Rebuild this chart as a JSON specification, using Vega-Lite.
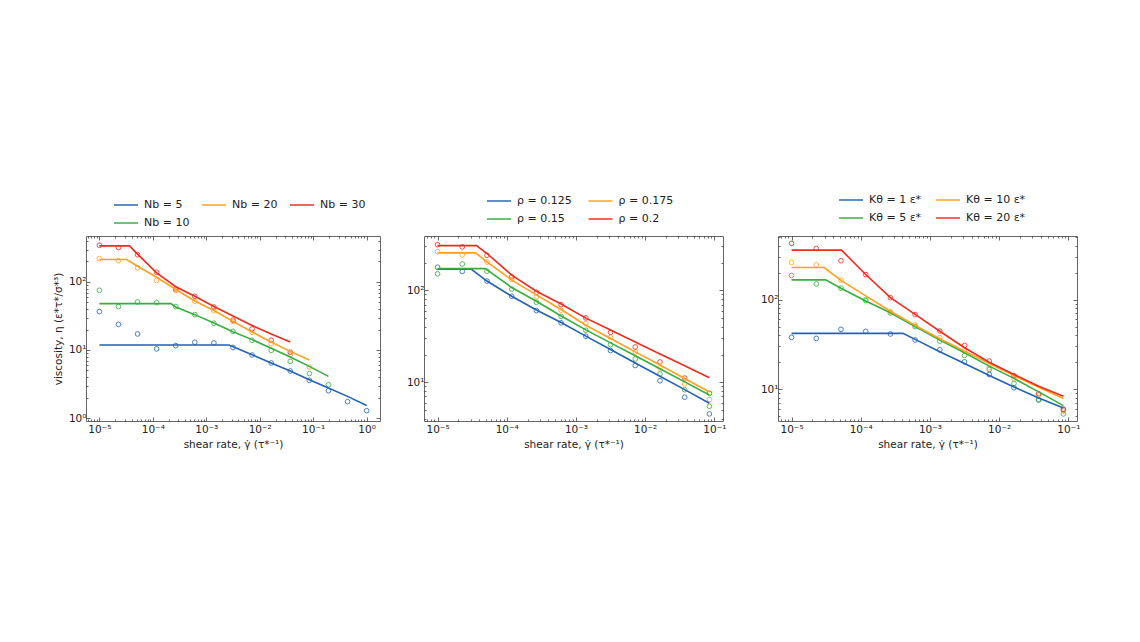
{
  "$schema": "https://vega.github.io/schema/vega-lite/v6.json",
  "padding": {"left": 52, "top": 186, "right": 5, "bottom": 5},
  "bounds": "flush",
  "spacing": 44,
  "resolve": {"scale": {"color": "independent"}, "legend": {"color": "independent"}},
  "datasets": {
    "p1pts": [
      {"s": "Nb = 5", "x": 1e-5, "y": 36.7}, {"s": "Nb = 5", "x": 2.276e-5, "y": 23.8}, {"s": "Nb = 5", "x": 5.179e-5, "y": 17.2}, {"s": "Nb = 5", "x": 1.179e-4, "y": 10.4}, {"s": "Nb = 5", "x": 2.683e-4, "y": 11.6}, {"s": "Nb = 5", "x": 6.105e-4, "y": 13.0}, {"s": "Nb = 5", "x": 1.389e-3, "y": 12.7}, {"s": "Nb = 5", "x": 3.162e-3, "y": 10.9}, {"s": "Nb = 5", "x": 7.197e-3, "y": 8.43}, {"s": "Nb = 5", "x": 1.638e-2, "y": 6.44}, {"s": "Nb = 5", "x": 3.728e-2, "y": 4.91}, {"s": "Nb = 5", "x": 8.483e-2, "y": 3.58}, {"s": "Nb = 5", "x": 0.1931, "y": 2.52}, {"s": "Nb = 5", "x": 0.4394, "y": 1.74}, {"s": "Nb = 5", "x": 1.0, "y": 1.28},
      {"s": "Nb = 10", "x": 1e-5, "y": 75.4}, {"s": "Nb = 10", "x": 2.276e-5, "y": 43.4}, {"s": "Nb = 10", "x": 5.179e-5, "y": 50.8}, {"s": "Nb = 10", "x": 1.179e-4, "y": 49.6}, {"s": "Nb = 10", "x": 2.683e-4, "y": 43.4}, {"s": "Nb = 10", "x": 6.105e-4, "y": 33.1}, {"s": "Nb = 10", "x": 1.389e-3, "y": 24.7}, {"s": "Nb = 10", "x": 3.162e-3, "y": 18.8}, {"s": "Nb = 10", "x": 7.197e-3, "y": 13.9}, {"s": "Nb = 10", "x": 1.638e-2, "y": 9.9}, {"s": "Nb = 10", "x": 3.728e-2, "y": 6.8}, {"s": "Nb = 10", "x": 8.483e-2, "y": 4.5}, {"s": "Nb = 10", "x": 0.1931, "y": 3.09},
      {"s": "Nb = 20", "x": 1e-5, "y": 220}, {"s": "Nb = 20", "x": 2.276e-5, "y": 206}, {"s": "Nb = 20", "x": 5.179e-5, "y": 162}, {"s": "Nb = 20", "x": 1.179e-4, "y": 105}, {"s": "Nb = 20", "x": 2.683e-4, "y": 75}, {"s": "Nb = 20", "x": 6.105e-4, "y": 52}, {"s": "Nb = 20", "x": 1.389e-3, "y": 37.8}, {"s": "Nb = 20", "x": 3.162e-3, "y": 26.3}, {"s": "Nb = 20", "x": 7.197e-3, "y": 18.2}, {"s": "Nb = 20", "x": 1.638e-2, "y": 12.4}, {"s": "Nb = 20", "x": 3.728e-2, "y": 8.5}, {"s": "Nb = 20", "x": 8.483e-2, "y": 5.6},
      {"s": "Nb = 30", "x": 1e-5, "y": 346}, {"s": "Nb = 30", "x": 2.276e-5, "y": 320}, {"s": "Nb = 30", "x": 5.179e-5, "y": 252}, {"s": "Nb = 30", "x": 1.179e-4, "y": 139}, {"s": "Nb = 30", "x": 2.683e-4, "y": 79}, {"s": "Nb = 30", "x": 6.105e-4, "y": 61.5}, {"s": "Nb = 30", "x": 1.389e-3, "y": 42.9}, {"s": "Nb = 30", "x": 3.162e-3, "y": 27.5}, {"s": "Nb = 30", "x": 7.197e-3, "y": 20.4}, {"s": "Nb = 30", "x": 1.638e-2, "y": 13.9}, {"s": "Nb = 30", "x": 3.728e-2, "y": 9.3}
    ],
    "p1lines": [
      {"s": "Nb = 5", "x": 1e-5, "y": 11.86}, {"s": "Nb = 5", "x": 2.667e-3, "y": 11.86}, {"s": "Nb = 5", "x": 7.197e-3, "y": 8.53}, {"s": "Nb = 5", "x": 1.638e-2, "y": 6.44}, {"s": "Nb = 5", "x": 3.728e-2, "y": 4.91}, {"s": "Nb = 5", "x": 8.483e-2, "y": 3.66}, {"s": "Nb = 5", "x": 0.1931, "y": 2.76}, {"s": "Nb = 5", "x": 0.4394, "y": 2.08}, {"s": "Nb = 5", "x": 1.0, "y": 1.53},
      {"s": "Nb = 10", "x": 1e-5, "y": 48.0}, {"s": "Nb = 10", "x": 2.178e-4, "y": 48.0}, {"s": "Nb = 10", "x": 2.683e-4, "y": 42.9}, {"s": "Nb = 10", "x": 6.105e-4, "y": 33.1}, {"s": "Nb = 10", "x": 1.389e-3, "y": 24.9}, {"s": "Nb = 10", "x": 3.162e-3, "y": 18.6}, {"s": "Nb = 10", "x": 7.197e-3, "y": 14.2}, {"s": "Nb = 10", "x": 1.638e-2, "y": 10.6}, {"s": "Nb = 10", "x": 3.728e-2, "y": 7.89}, {"s": "Nb = 10", "x": 8.483e-2, "y": 5.75}, {"s": "Nb = 10", "x": 0.1931, "y": 4.10},
      {"s": "Nb = 20", "x": 1e-5, "y": 214}, {"s": "Nb = 20", "x": 3.251e-5, "y": 214}, {"s": "Nb = 20", "x": 5.179e-5, "y": 170}, {"s": "Nb = 20", "x": 1.179e-4, "y": 117.5}, {"s": "Nb = 20", "x": 2.683e-4, "y": 77.6}, {"s": "Nb = 20", "x": 6.105e-4, "y": 52.5}, {"s": "Nb = 20", "x": 1.389e-3, "y": 38.0}, {"s": "Nb = 20", "x": 3.162e-3, "y": 26.3}, {"s": "Nb = 20", "x": 7.197e-3, "y": 18.4}, {"s": "Nb = 20", "x": 1.638e-2, "y": 13.1}, {"s": "Nb = 20", "x": 3.728e-2, "y": 9.55}, {"s": "Nb = 20", "x": 8.483e-2, "y": 7.13},
      {"s": "Nb = 30", "x": 1e-5, "y": 339}, {"s": "Nb = 30", "x": 3.656e-5, "y": 339}, {"s": "Nb = 30", "x": 5.179e-5, "y": 257}, {"s": "Nb = 30", "x": 1.179e-4, "y": 136}, {"s": "Nb = 30", "x": 2.683e-4, "y": 85.1}, {"s": "Nb = 30", "x": 6.105e-4, "y": 61.7}, {"s": "Nb = 30", "x": 1.389e-3, "y": 43.7}, {"s": "Nb = 30", "x": 3.162e-3, "y": 31.6}, {"s": "Nb = 30", "x": 7.197e-3, "y": 22.9}, {"s": "Nb = 30", "x": 1.638e-2, "y": 17.2}, {"s": "Nb = 30", "x": 3.728e-2, "y": 13.1}
    ],
    "p2pts": [
      {"s": "ρ = 0.125", "x": 1e-5, "y": 178}, {"s": "ρ = 0.125", "x": 2.276e-5, "y": 160}, {"s": "ρ = 0.125", "x": 5.179e-5, "y": 126}, {"s": "ρ = 0.125", "x": 1.179e-4, "y": 86}, {"s": "ρ = 0.125", "x": 2.683e-4, "y": 60.1}, {"s": "ρ = 0.125", "x": 6.105e-4, "y": 44.2}, {"s": "ρ = 0.125", "x": 1.389e-3, "y": 31.6}, {"s": "ρ = 0.125", "x": 3.162e-3, "y": 22.1}, {"s": "ρ = 0.125", "x": 7.197e-3, "y": 15.2}, {"s": "ρ = 0.125", "x": 1.638e-2, "y": 10.4}, {"s": "ρ = 0.125", "x": 3.728e-2, "y": 6.87}, {"s": "ρ = 0.125", "x": 8.483e-2, "y": 4.53},
      {"s": "ρ = 0.15", "x": 1e-5, "y": 151}, {"s": "ρ = 0.15", "x": 2.276e-5, "y": 193}, {"s": "ρ = 0.15", "x": 5.179e-5, "y": 161}, {"s": "ρ = 0.15", "x": 1.179e-4, "y": 103}, {"s": "ρ = 0.15", "x": 2.683e-4, "y": 74}, {"s": "ρ = 0.15", "x": 6.105e-4, "y": 52}, {"s": "ρ = 0.15", "x": 1.389e-3, "y": 36.7}, {"s": "ρ = 0.15", "x": 3.162e-3, "y": 25.6}, {"s": "ρ = 0.15", "x": 7.197e-3, "y": 17.9}, {"s": "ρ = 0.15", "x": 1.638e-2, "y": 12.3}, {"s": "ρ = 0.15", "x": 3.728e-2, "y": 8.3}, {"s": "ρ = 0.15", "x": 8.483e-2, "y": 5.48},
      {"s": "ρ = 0.175", "x": 1e-5, "y": 263}, {"s": "ρ = 0.175", "x": 2.276e-5, "y": 242}, {"s": "ρ = 0.175", "x": 5.179e-5, "y": 203}, {"s": "ρ = 0.175", "x": 1.179e-4, "y": 131}, {"s": "ρ = 0.175", "x": 2.683e-4, "y": 84.6}, {"s": "ρ = 0.175", "x": 6.105e-4, "y": 60.7}, {"s": "ρ = 0.175", "x": 1.389e-3, "y": 43.5}, {"s": "ρ = 0.175", "x": 3.162e-3, "y": 30.8}, {"s": "ρ = 0.175", "x": 7.197e-3, "y": 21.4}, {"s": "ρ = 0.175", "x": 1.638e-2, "y": 14.3}, {"s": "ρ = 0.175", "x": 3.728e-2, "y": 9.6}, {"s": "ρ = 0.175", "x": 8.483e-2, "y": 6.49},
      {"s": "ρ = 0.2", "x": 1e-5, "y": 313}, {"s": "ρ = 0.2", "x": 2.276e-5, "y": 296}, {"s": "ρ = 0.2", "x": 5.179e-5, "y": 240}, {"s": "ρ = 0.2", "x": 1.179e-4, "y": 140}, {"s": "ρ = 0.2", "x": 2.683e-4, "y": 95}, {"s": "ρ = 0.2", "x": 6.105e-4, "y": 69.8}, {"s": "ρ = 0.2", "x": 1.389e-3, "y": 50}, {"s": "ρ = 0.2", "x": 3.162e-3, "y": 34.9}, {"s": "ρ = 0.2", "x": 7.197e-3, "y": 24.2}, {"s": "ρ = 0.2", "x": 1.638e-2, "y": 16.6}, {"s": "ρ = 0.2", "x": 3.728e-2, "y": 11.1}, {"s": "ρ = 0.2", "x": 8.483e-2, "y": 7.6}
    ],
    "p2lines": [
      {"s": "ρ = 0.125", "x": 1e-5, "y": 169}, {"s": "ρ = 0.125", "x": 3.09e-5, "y": 169}, {"s": "ρ = 0.125", "x": 5.179e-5, "y": 126}, {"s": "ρ = 0.125", "x": 1.179e-4, "y": 86.1}, {"s": "ρ = 0.125", "x": 2.683e-4, "y": 61}, {"s": "ρ = 0.125", "x": 6.105e-4, "y": 44.7}, {"s": "ρ = 0.125", "x": 1.389e-3, "y": 31.7}, {"s": "ρ = 0.125", "x": 3.162e-3, "y": 22.7}, {"s": "ρ = 0.125", "x": 7.197e-3, "y": 16.2}, {"s": "ρ = 0.125", "x": 1.638e-2, "y": 11.6}, {"s": "ρ = 0.125", "x": 3.728e-2, "y": 8.32}, {"s": "ρ = 0.125", "x": 8.483e-2, "y": 5.92},
      {"s": "ρ = 0.15", "x": 1e-5, "y": 172}, {"s": "ρ = 0.15", "x": 4.9e-5, "y": 172}, {"s": "ρ = 0.15", "x": 1.179e-4, "y": 107}, {"s": "ρ = 0.15", "x": 2.683e-4, "y": 75.9}, {"s": "ρ = 0.15", "x": 6.105e-4, "y": 52.5}, {"s": "ρ = 0.15", "x": 1.389e-3, "y": 37.1}, {"s": "ρ = 0.15", "x": 3.162e-3, "y": 26.8}, {"s": "ρ = 0.15", "x": 7.197e-3, "y": 19.4}, {"s": "ρ = 0.15", "x": 1.638e-2, "y": 14.0}, {"s": "ρ = 0.15", "x": 3.728e-2, "y": 10.1}, {"s": "ρ = 0.15", "x": 8.483e-2, "y": 7.28},
      {"s": "ρ = 0.175", "x": 1e-5, "y": 255}, {"s": "ρ = 0.175", "x": 3.53e-5, "y": 255}, {"s": "ρ = 0.175", "x": 5.179e-5, "y": 204}, {"s": "ρ = 0.175", "x": 1.179e-4, "y": 129}, {"s": "ρ = 0.175", "x": 2.683e-4, "y": 89.1}, {"s": "ρ = 0.175", "x": 6.105e-4, "y": 61.7}, {"s": "ρ = 0.175", "x": 1.389e-3, "y": 41.7}, {"s": "ρ = 0.175", "x": 3.162e-3, "y": 29.9}, {"s": "ρ = 0.175", "x": 7.197e-3, "y": 21.4}, {"s": "ρ = 0.175", "x": 1.638e-2, "y": 15.4}, {"s": "ρ = 0.175", "x": 3.728e-2, "y": 11.0}, {"s": "ρ = 0.175", "x": 8.483e-2, "y": 7.82},
      {"s": "ρ = 0.2", "x": 1e-5, "y": 306}, {"s": "ρ = 0.2", "x": 3.66e-5, "y": 306}, {"s": "ρ = 0.2", "x": 5.179e-5, "y": 251}, {"s": "ρ = 0.2", "x": 1.179e-4, "y": 146}, {"s": "ρ = 0.2", "x": 2.683e-4, "y": 97.7}, {"s": "ρ = 0.2", "x": 6.105e-4, "y": 70.8}, {"s": "ρ = 0.2", "x": 1.389e-3, "y": 49.8}, {"s": "ρ = 0.2", "x": 3.162e-3, "y": 36.9}, {"s": "ρ = 0.2", "x": 7.197e-3, "y": 27.4}, {"s": "ρ = 0.2", "x": 1.638e-2, "y": 20.3}, {"s": "ρ = 0.2", "x": 3.728e-2, "y": 15.1}, {"s": "ρ = 0.2", "x": 8.483e-2, "y": 11.2}
    ],
    "p3pts": [
      {"s": "Kθ = 1 ε*", "x": 1e-5, "y": 37.9}, {"s": "Kθ = 1 ε*", "x": 2.276e-5, "y": 36.9}, {"s": "Kθ = 1 ε*", "x": 5.179e-5, "y": 46.5}, {"s": "Kθ = 1 ε*", "x": 1.179e-4, "y": 44.2}, {"s": "Kθ = 1 ε*", "x": 2.683e-4, "y": 41.3}, {"s": "Kθ = 1 ε*", "x": 6.105e-4, "y": 35.4}, {"s": "Kθ = 1 ε*", "x": 1.389e-3, "y": 27.5}, {"s": "Kθ = 1 ε*", "x": 3.162e-3, "y": 20.2}, {"s": "Kθ = 1 ε*", "x": 7.197e-3, "y": 14.6}, {"s": "Kθ = 1 ε*", "x": 1.638e-2, "y": 10.4}, {"s": "Kθ = 1 ε*", "x": 3.728e-2, "y": 7.6}, {"s": "Kθ = 1 ε*", "x": 8.483e-2, "y": 5.9},
      {"s": "Kθ = 5 ε*", "x": 1e-5, "y": 186}, {"s": "Kθ = 5 ε*", "x": 2.276e-5, "y": 150}, {"s": "Kθ = 5 ε*", "x": 5.179e-5, "y": 134}, {"s": "Kθ = 5 ε*", "x": 1.179e-4, "y": 97.5}, {"s": "Kθ = 5 ε*", "x": 2.683e-4, "y": 71}, {"s": "Kθ = 5 ε*", "x": 6.105e-4, "y": 50}, {"s": "Kθ = 5 ε*", "x": 1.389e-3, "y": 34.4}, {"s": "Kθ = 5 ε*", "x": 3.162e-3, "y": 23.8}, {"s": "Kθ = 5 ε*", "x": 7.197e-3, "y": 16.6}, {"s": "Kθ = 5 ε*", "x": 1.638e-2, "y": 11.6}, {"s": "Kθ = 5 ε*", "x": 3.728e-2, "y": 7.6}, {"s": "Kθ = 5 ε*", "x": 8.483e-2, "y": 5.3},
      {"s": "Kθ = 10 ε*", "x": 1e-5, "y": 259}, {"s": "Kθ = 10 ε*", "x": 2.276e-5, "y": 244}, {"s": "Kθ = 10 ε*", "x": 5.179e-5, "y": 165}, {"s": "Kθ = 10 ε*", "x": 1.179e-4, "y": 100}, {"s": "Kθ = 10 ε*", "x": 2.683e-4, "y": 73}, {"s": "Kθ = 10 ε*", "x": 6.105e-4, "y": 52}, {"s": "Kθ = 10 ε*", "x": 1.389e-3, "y": 37.6}, {"s": "Kθ = 10 ε*", "x": 3.162e-3, "y": 26.6}, {"s": "Kθ = 10 ε*", "x": 7.197e-3, "y": 17.3}, {"s": "Kθ = 10 ε*", "x": 1.638e-2, "y": 13.1}, {"s": "Kθ = 10 ε*", "x": 3.728e-2, "y": 8.6}, {"s": "Kθ = 10 ε*", "x": 8.483e-2, "y": 5.7},
      {"s": "Kθ = 20 ε*", "x": 1e-5, "y": 424}, {"s": "Kθ = 20 ε*", "x": 2.276e-5, "y": 372}, {"s": "Kθ = 20 ε*", "x": 5.179e-5, "y": 271}, {"s": "Kθ = 20 ε*", "x": 1.179e-4, "y": 190}, {"s": "Kθ = 20 ε*", "x": 2.683e-4, "y": 105}, {"s": "Kθ = 20 ε*", "x": 6.105e-4, "y": 68}, {"s": "Kθ = 20 ε*", "x": 1.389e-3, "y": 44.6}, {"s": "Kθ = 20 ε*", "x": 3.162e-3, "y": 30.8}, {"s": "Kθ = 20 ε*", "x": 7.197e-3, "y": 20.6}, {"s": "Kθ = 20 ε*", "x": 1.638e-2, "y": 14.2}, {"s": "Kθ = 20 ε*", "x": 3.728e-2, "y": 8.9}, {"s": "Kθ = 20 ε*", "x": 8.483e-2, "y": 6.0}
    ],
    "p3lines": [
      {"s": "Kθ = 1 ε*", "x": 1e-5, "y": 42}, {"s": "Kθ = 1 ε*", "x": 4.07e-4, "y": 42}, {"s": "Kθ = 1 ε*", "x": 6.105e-4, "y": 36}, {"s": "Kθ = 1 ε*", "x": 1.389e-3, "y": 26.2}, {"s": "Kθ = 1 ε*", "x": 3.162e-3, "y": 19.4}, {"s": "Kθ = 1 ε*", "x": 7.197e-3, "y": 14.2}, {"s": "Kθ = 1 ε*", "x": 1.638e-2, "y": 10.6}, {"s": "Kθ = 1 ε*", "x": 3.728e-2, "y": 8.0}, {"s": "Kθ = 1 ε*", "x": 8.483e-2, "y": 6.18},
      {"s": "Kθ = 5 ε*", "x": 1e-5, "y": 166}, {"s": "Kθ = 5 ε*", "x": 3.1e-5, "y": 166}, {"s": "Kθ = 5 ε*", "x": 5.179e-5, "y": 134}, {"s": "Kθ = 5 ε*", "x": 1.179e-4, "y": 96.6}, {"s": "Kθ = 5 ε*", "x": 2.683e-4, "y": 71.4}, {"s": "Kθ = 5 ε*", "x": 6.105e-4, "y": 49.9}, {"s": "Kθ = 5 ε*", "x": 1.389e-3, "y": 35.4}, {"s": "Kθ = 5 ε*", "x": 3.162e-3, "y": 25.5}, {"s": "Kθ = 5 ε*", "x": 7.197e-3, "y": 18.1}, {"s": "Kθ = 5 ε*", "x": 1.638e-2, "y": 13.2}, {"s": "Kθ = 5 ε*", "x": 3.728e-2, "y": 9.33}, {"s": "Kθ = 5 ε*", "x": 8.483e-2, "y": 6.56},
      {"s": "Kθ = 10 ε*", "x": 1e-5, "y": 228}, {"s": "Kθ = 10 ε*", "x": 2.96e-5, "y": 228}, {"s": "Kθ = 10 ε*", "x": 5.179e-5, "y": 164}, {"s": "Kθ = 10 ε*", "x": 1.179e-4, "y": 110}, {"s": "Kθ = 10 ε*", "x": 2.683e-4, "y": 74}, {"s": "Kθ = 10 ε*", "x": 6.105e-4, "y": 51.6}, {"s": "Kθ = 10 ε*", "x": 1.389e-3, "y": 36.6}, {"s": "Kθ = 10 ε*", "x": 3.162e-3, "y": 26.6}, {"s": "Kθ = 10 ε*", "x": 7.197e-3, "y": 19.4}, {"s": "Kθ = 10 ε*", "x": 1.638e-2, "y": 14.2}, {"s": "Kθ = 10 ε*", "x": 3.728e-2, "y": 10.5}, {"s": "Kθ = 10 ε*", "x": 8.483e-2, "y": 7.87},
      {"s": "Kθ = 20 ε*", "x": 1e-5, "y": 356}, {"s": "Kθ = 20 ε*", "x": 5.27e-5, "y": 356}, {"s": "Kθ = 20 ε*", "x": 1.179e-4, "y": 190.5}, {"s": "Kθ = 20 ε*", "x": 2.683e-4, "y": 105}, {"s": "Kθ = 20 ε*", "x": 6.105e-4, "y": 68.5}, {"s": "Kθ = 20 ε*", "x": 1.389e-3, "y": 44.3}, {"s": "Kθ = 20 ε*", "x": 3.162e-3, "y": 29.0}, {"s": "Kθ = 20 ε*", "x": 7.197e-3, "y": 20.0}, {"s": "Kθ = 20 ε*", "x": 1.638e-2, "y": 14.6}, {"s": "Kθ = 20 ε*", "x": 3.728e-2, "y": 10.8}, {"s": "Kθ = 20 ε*", "x": 8.483e-2, "y": 8.36}
    ]
  },
  "hconcat": [
    {
      "width": 294, "height": 185,
      "resolve": {"axis": {"x": "independent", "y": "independent"}},
      "layer": [
        {
          "data": {"name": "p1pts"},
          "mark": {"type": "point", "shape": "circle", "filled": false, "size": 22, "strokeWidth": 0.9, "opacity": 0.9},
          "encoding": {
            "x": {"field": "x", "type": "quantitative", "scale": {"type": "log", "domain": [5.623e-6, 1.778], "nice": false},
              "axis": {"orient": "bottom", "title": "shear rate,  γ̇ (τ*⁻¹)", "values": [6e-6,7e-6,8e-6,9e-6,1e-5,2e-5,3e-5,4e-5,5e-5,6e-5,7e-5,8e-5,9e-5,1e-4,2e-4,3e-4,4e-4,5e-4,6e-4,7e-4,8e-4,9e-4,1e-3,2e-3,3e-3,4e-3,5e-3,6e-3,7e-3,8e-3,9e-3,0.01,0.02,0.03,0.04,0.05,0.06,0.07,0.08,0.09,0.1,0.2,0.3,0.4,0.5,0.6,0.7,0.8,0.9,1],
                "labelExpr": "abs(log(datum.value)/LN10 - round(log(datum.value)/LN10)) < 0.01 ? '10' + ['⁻⁵','⁻⁴','⁻³','⁻²','⁻¹','⁰','¹','²'][round(log(datum.value)/LN10) + 5] : ''",
                "tickSize": {"condition": {"test": "abs(log(datum.value)/LN10 - round(log(datum.value)/LN10)) < 0.01", "value": -4}, "value": -2},
                "labelPadding": 7, "titlePadding": 3}},
            "y": {"field": "y", "type": "quantitative", "scale": {"type": "log", "domain": [0.904, 474], "nice": false},
              "axis": {"orient": "left", "title": "viscosity, η (ε*τ*/σ*³)", "values": [1,2,3,4,5,6,7,8,9,10,20,30,40,50,60,70,80,90,100,200,300,400],
                "labelExpr": "abs(log(datum.value)/LN10 - round(log(datum.value)/LN10)) < 0.01 ? '10' + ['⁻⁵','⁻⁴','⁻³','⁻²','⁻¹','⁰','¹','²'][round(log(datum.value)/LN10) + 5] : ''",
                "tickSize": {"condition": {"test": "abs(log(datum.value)/LN10 - round(log(datum.value)/LN10)) < 0.01", "value": -4}, "value": -2},
                "labelPadding": 4, "titlePadding": 5}},
            "color": {"field": "s", "type": "nominal", "scale": {"domain": ["Nb = 5", "Nb = 20", "Nb = 30", "Nb = 10"], "range": ["#2462b4", "#ffa01f", "#ef2a1e", "#37ad3e"]}}
          }
        },
        {
          "data": {"name": "p1lines"},
          "mark": {"type": "line", "strokeWidth": 1.6},
          "encoding": {
            "x": {"field": "x", "type": "quantitative",
              "axis": {"orient": "top", "title": null, "labels": false, "values": [6e-6,7e-6,8e-6,9e-6,1e-5,2e-5,3e-5,4e-5,5e-5,6e-5,7e-5,8e-5,9e-5,1e-4,2e-4,3e-4,4e-4,5e-4,6e-4,7e-4,8e-4,9e-4,1e-3,2e-3,3e-3,4e-3,5e-3,6e-3,7e-3,8e-3,9e-3,0.01,0.02,0.03,0.04,0.05,0.06,0.07,0.08,0.09,0.1,0.2,0.3,0.4,0.5,0.6,0.7,0.8,0.9,1],
                "tickSize": {"condition": {"test": "abs(log(datum.value)/LN10 - round(log(datum.value)/LN10)) < 0.01", "value": -4}, "value": -2}}},
            "y": {"field": "y", "type": "quantitative",
              "axis": {"orient": "right", "title": null, "labels": false, "values": [1,2,3,4,5,6,7,8,9,10,20,30,40,50,60,70,80,90,100,200,300,400],
                "tickSize": {"condition": {"test": "abs(log(datum.value)/LN10 - round(log(datum.value)/LN10)) < 0.01", "value": -4}, "value": -2}}},
            "color": {"field": "s", "type": "nominal", "scale": {"domain": ["Nb = 5", "Nb = 20", "Nb = 30", "Nb = 10"], "range": ["#2462b4", "#ffa01f", "#ef2a1e", "#37ad3e"]},
              "legend": {"orient": "none", "legendX": 27, "legendY": -44, "direction": "horizontal", "columns": 3, "title": null, "symbolType": "stroke", "symbolSize": 576, "symbolStrokeWidth": 1.6, "symbolOpacity": 1, "labelFontSize": 11, "labelOffset": 5, "columnPadding": 8, "rowPadding": -12, "gridAlign": "all", "padding": 0}}
          }
        }
      ]
    },
    {
      "spacing": 55,
      "bounds": "flush",
      "resolve": {"scale": {"color": "independent"}, "legend": {"color": "independent"}},
      "hconcat": [
        {
          "width": 299, "height": 185,
          "resolve": {"axis": {"x": "independent", "y": "independent"}},
          "layer": [
            {
              "data": {"name": "p2pts"},
              "mark": {"type": "point", "shape": "circle", "filled": false, "size": 22, "strokeWidth": 0.9, "opacity": 0.9},
              "encoding": {
                "x": {"field": "x", "type": "quantitative", "scale": {"type": "log", "domain": [6.368e-6, 0.1334], "nice": false},
                  "axis": {"orient": "bottom", "title": "shear rate,  γ̇ (τ*⁻¹)", "values": [7e-6,8e-6,9e-6,1e-5,2e-5,3e-5,4e-5,5e-5,6e-5,7e-5,8e-5,9e-5,1e-4,2e-4,3e-4,4e-4,5e-4,6e-4,7e-4,8e-4,9e-4,1e-3,2e-3,3e-3,4e-3,5e-3,6e-3,7e-3,8e-3,9e-3,0.01,0.02,0.03,0.04,0.05,0.06,0.07,0.08,0.09,0.1],
                    "labelExpr": "abs(log(datum.value)/LN10 - round(log(datum.value)/LN10)) < 0.01 ? '10' + ['⁻⁵','⁻⁴','⁻³','⁻²','⁻¹','⁰','¹','²'][round(log(datum.value)/LN10) + 5] : ''",
                    "tickSize": {"condition": {"test": "abs(log(datum.value)/LN10 - round(log(datum.value)/LN10)) < 0.01", "value": -4}, "value": -2},
                    "labelPadding": 7, "titlePadding": 3}},
                "y": {"field": "y", "type": "quantitative", "scale": {"type": "log", "domain": [3.79, 389], "nice": false},
                  "axis": {"orient": "left", "title": null, "values": [4,5,6,7,8,9,10,20,30,40,50,60,70,80,90,100,200,300],
                    "labelExpr": "abs(log(datum.value)/LN10 - round(log(datum.value)/LN10)) < 0.01 ? '10' + ['⁻⁵','⁻⁴','⁻³','⁻²','⁻¹','⁰','¹','²'][round(log(datum.value)/LN10) + 5] : ''",
                    "tickSize": {"condition": {"test": "abs(log(datum.value)/LN10 - round(log(datum.value)/LN10)) < 0.01", "value": -4}, "value": -2},
                    "labelPadding": 4}},
                "color": {"field": "s", "type": "nominal", "scale": {"domain": ["ρ = 0.125", "ρ = 0.175", "ρ = 0.15", "ρ = 0.2"], "range": ["#2462b4", "#ffa01f", "#37ad3e", "#ef2a1e"]}}
              }
            },
            {
              "data": {"name": "p2lines"},
              "mark": {"type": "line", "strokeWidth": 1.6},
              "encoding": {
                "x": {"field": "x", "type": "quantitative",
                  "axis": {"orient": "top", "title": null, "labels": false, "values": [7e-6,8e-6,9e-6,1e-5,2e-5,3e-5,4e-5,5e-5,6e-5,7e-5,8e-5,9e-5,1e-4,2e-4,3e-4,4e-4,5e-4,6e-4,7e-4,8e-4,9e-4,1e-3,2e-3,3e-3,4e-3,5e-3,6e-3,7e-3,8e-3,9e-3,0.01,0.02,0.03,0.04,0.05,0.06,0.07,0.08,0.09,0.1],
                    "tickSize": {"condition": {"test": "abs(log(datum.value)/LN10 - round(log(datum.value)/LN10)) < 0.01", "value": -4}, "value": -2}}},
                "y": {"field": "y", "type": "quantitative",
                  "axis": {"orient": "right", "title": null, "labels": false, "values": [4,5,6,7,8,9,10,20,30,40,50,60,70,80,90,100,200,300],
                    "tickSize": {"condition": {"test": "abs(log(datum.value)/LN10 - round(log(datum.value)/LN10)) < 0.01", "value": -4}, "value": -2}}},
                "color": {"field": "s", "type": "nominal", "scale": {"domain": ["ρ = 0.125", "ρ = 0.175", "ρ = 0.15", "ρ = 0.2"], "range": ["#2462b4", "#ffa01f", "#37ad3e", "#ef2a1e"]},
                  "legend": {"orient": "none", "legendX": 62, "legendY": -48, "direction": "horizontal", "columns": 2, "title": null, "symbolType": "stroke", "symbolSize": 576, "symbolStrokeWidth": 1.6, "symbolOpacity": 1, "labelFontSize": 11, "labelOffset": 5, "columnPadding": 12.5, "rowPadding": -8, "gridAlign": "all", "padding": 0}}
              }
            }
          ]
        },
        {
          "width": 299, "height": 185,
          "resolve": {"axis": {"x": "independent", "y": "independent"}},
          "layer": [
            {
              "data": {"name": "p3pts"},
              "mark": {"type": "point", "shape": "circle", "filled": false, "size": 22, "strokeWidth": 0.9, "opacity": 0.9},
              "encoding": {
                "x": {"field": "x", "type": "quantitative", "scale": {"type": "log", "domain": [6.368e-6, 0.1334], "nice": false},
                  "axis": {"orient": "bottom", "title": "shear rate,  γ̇ (τ*⁻¹)", "values": [7e-6,8e-6,9e-6,1e-5,2e-5,3e-5,4e-5,5e-5,6e-5,7e-5,8e-5,9e-5,1e-4,2e-4,3e-4,4e-4,5e-4,6e-4,7e-4,8e-4,9e-4,1e-3,2e-3,3e-3,4e-3,5e-3,6e-3,7e-3,8e-3,9e-3,0.01,0.02,0.03,0.04,0.05,0.06,0.07,0.08,0.09,0.1],
                    "labelExpr": "abs(log(datum.value)/LN10 - round(log(datum.value)/LN10)) < 0.01 ? '10' + ['⁻⁵','⁻⁴','⁻³','⁻²','⁻¹','⁰','¹','²'][round(log(datum.value)/LN10) + 5] : ''",
                    "tickSize": {"condition": {"test": "abs(log(datum.value)/LN10 - round(log(datum.value)/LN10)) < 0.01", "value": -4}, "value": -2},
                    "labelPadding": 7, "titlePadding": 3}},
                "y": {"field": "y", "type": "quantitative", "scale": {"type": "log", "domain": [4.42, 512], "nice": false},
                  "axis": {"orient": "left", "title": null, "values": [5,6,7,8,9,10,20,30,40,50,60,70,80,90,100,200,300,400,500],
                    "labelExpr": "abs(log(datum.value)/LN10 - round(log(datum.value)/LN10)) < 0.01 ? '10' + ['⁻⁵','⁻⁴','⁻³','⁻²','⁻¹','⁰','¹','²'][round(log(datum.value)/LN10) + 5] : ''",
                    "tickSize": {"condition": {"test": "abs(log(datum.value)/LN10 - round(log(datum.value)/LN10)) < 0.01", "value": -4}, "value": -2},
                    "labelPadding": 4}},
                "color": {"field": "s", "type": "nominal", "scale": {"domain": ["Kθ = 1 ε*", "Kθ = 10 ε*", "Kθ = 5 ε*", "Kθ = 20 ε*"], "range": ["#2462b4", "#ffa01f", "#37ad3e", "#ef2a1e"]}}
              }
            },
            {
              "data": {"name": "p3lines"},
              "mark": {"type": "line", "strokeWidth": 1.6},
              "encoding": {
                "x": {"field": "x", "type": "quantitative",
                  "axis": {"orient": "top", "title": null, "labels": false, "values": [7e-6,8e-6,9e-6,1e-5,2e-5,3e-5,4e-5,5e-5,6e-5,7e-5,8e-5,9e-5,1e-4,2e-4,3e-4,4e-4,5e-4,6e-4,7e-4,8e-4,9e-4,1e-3,2e-3,3e-3,4e-3,5e-3,6e-3,7e-3,8e-3,9e-3,0.01,0.02,0.03,0.04,0.05,0.06,0.07,0.08,0.09,0.1],
                    "tickSize": {"condition": {"test": "abs(log(datum.value)/LN10 - round(log(datum.value)/LN10)) < 0.01", "value": -4}, "value": -2}}},
                "y": {"field": "y", "type": "quantitative",
                  "axis": {"orient": "right", "title": null, "labels": false, "values": [5,6,7,8,9,10,20,30,40,50,60,70,80,90,100,200,300,400,500],
                    "tickSize": {"condition": {"test": "abs(log(datum.value)/LN10 - round(log(datum.value)/LN10)) < 0.01", "value": -4}, "value": -2}}},
                "color": {"field": "s", "type": "nominal", "scale": {"domain": ["Kθ = 1 ε*", "Kθ = 10 ε*", "Kθ = 5 ε*", "Kθ = 20 ε*"], "range": ["#2462b4", "#ffa01f", "#37ad3e", "#ef2a1e"]},
                  "legend": {"orient": "none", "legendX": 60, "legendY": -49, "direction": "horizontal", "columns": 2, "title": null, "symbolType": "stroke", "symbolSize": 576, "symbolStrokeWidth": 1.6, "symbolOpacity": 1, "labelFontSize": 11, "labelOffset": 5, "columnPadding": 3, "rowPadding": -9, "gridAlign": "all", "padding": 0}}
              }
            }
          ]
        }
      ]
    }
  ],
  "config": {
    "font": "DejaVu Sans",
    "view": {"stroke": "#666666", "strokeWidth": 1},
    "axis": {"domain": false, "grid": false, "labelFont": "DejaVu Sans", "labelFontSize": 10.5, "labelColor": "#222222", "tickColor": "#444444", "tickWidth": 0.8, "labelOverlap": false, "labelFlush": false, "labelBound": false, "titleFont": "DejaVu Sans", "titleFontSize": 10.5, "titleFontWeight": "normal", "titleColor": "#222222"},
    "legend": {"labelFont": "DejaVu Sans", "labelColor": "#222222"}
  }
}
